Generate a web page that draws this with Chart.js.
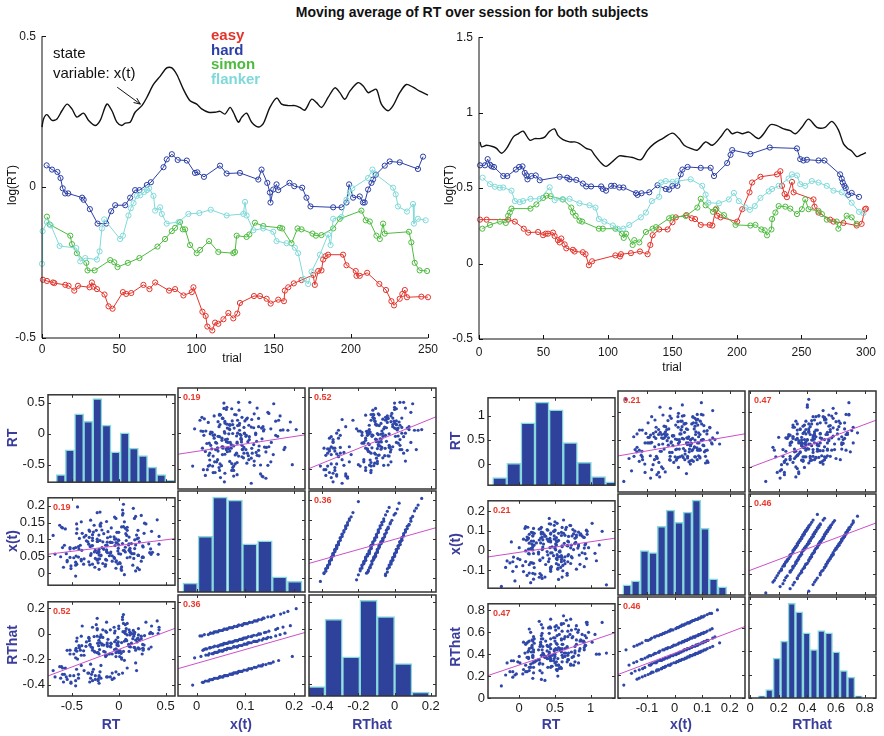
<!DOCTYPE html>
<html>
<head>
<meta charset="utf-8">
<title>Moving average of RT</title>
<script src="https://cdn.jsdelivr.net/npm/chart.js@4.4.1/dist/chart.umd.min.js"></script>
<style>
  html, body { margin: 0; padding: 0; background: #fff; }
  body { position: relative; width: 884px; height: 736px; overflow: hidden; font-family: "Liberation Sans", Arial, Helvetica, sans-serif; }
  canvas { position: absolute; }
  .lbl { position: absolute; white-space: nowrap; line-height: 1; transform: translate(-50%, -50%); z-index: 2; color: #111; }
  .rot { transform: translate(-50%, -50%) rotate(-90deg); }
  .var { font-weight: bold; font-size: 14px; color: #3a3d9c; }
  .txt { position: absolute; white-space: nowrap; line-height: 1; transform: translateY(-50%); z-index: 2; }
</style>
</head>
<body>
<script>
// ---------- top plots: moving averages (trial, log RT) ----------
const conditions = ['easy', 'hard', 'simon', 'flanker'];
const condColors = ['#e3342b', '#2b3fa6', '#4dbb3f', '#80d9d9'];

const stateL = [[0,0.199],[1,0.226],[3.2,0.240],[6.5,0.221],[9.7,0.226],[12.9,0.253],[16.2,0.275],[19.4,0.259],[22.6,0.232],[26.9,0.245],[30.2,0.221],[34.5,0.204],[37.7,0.221],[42,0.275],[45.3,0.253],[48.5,0.215],[51.7,0.204],[53.9,0.212],[57.1,0.215],[60.3,0.248],[64.7,0.270],[67.9,0.297],[72.2,0.340],[76.5,0.367],[80.8,0.395],[84.1,0.395],[87.3,0.373],[91.6,0.324],[95.9,0.286],[100.2,0.275],[103.4,0.259],[107.8,0.248],[112.1,0.248],[115.3,0.251],[118.5,0.242],[121.8,0.264],[123.9,0.248],[127.2,0.215],[129.3,0.231],[132.5,0.245],[135.8,0.215],[140.1,0.199],[143.3,0.210],[147.6,0.264],[152,0.295],[155.2,0.275],[159.5,0.270],[163.8,0.270],[167,0.264],[170.3,0.255],[174.6,0.291],[177.8,0.280],[181.1,0.264],[185.3,0.297],[189.7,0.329],[192.9,0.313],[196.1,0.291],[199.4,0.318],[204.7,0.346],[208,0.335],[211.2,0.313],[213.4,0.318],[216.6,0.324],[219.8,0.275],[224.1,0.253],[227.4,0.270],[231.7,0.313],[236,0.340],[240.3,0.331],[244.6,0.318],[250,0.305]];
const easyL = [[0.6,-0.307],[3.2,-0.311],[7.1,-0.316],[8,-0.318],[15.1,-0.324],[17.2,-0.327],[20.9,-0.343],[23.3,-0.327],[30.8,-0.332],[32.3,-0.316],[33.4,-0.330],[35.6,-0.338],[40.5,-0.356],[43.1,-0.395],[45.7,-0.403],[52.4,-0.348],[54.5,-0.354],[57.8,-0.351],[65.7,-0.324],[69.6,-0.338],[73.3,-0.316],[82.3,-0.343],[86.2,-0.338],[91.6,-0.359],[97,-0.348],[98.1,-0.332],[103.9,-0.413],[106,-0.427],[107.1,-0.462],[110.3,-0.475],[112.1,-0.449],[114.2,-0.453],[117.5,-0.438],[120.7,-0.417],[123.9,-0.435],[126.5,-0.419],[128.2,-0.384],[137.3,-0.361],[141.2,-0.361],[145.5,-0.370],[148.1,-0.386],[153,-0.373],[156.7,-0.378],[157.3,-0.343],[159.5,-0.332],[163.1,-0.319],[168.1,-0.308],[175.6,-0.291],[176.7,-0.324],[178.9,-0.278],[181,-0.276],[182.1,-0.240],[183.6,-0.229],[185.3,-0.224],[195,-0.224],[197.2,-0.259],[203.2,-0.278],[203.7,-0.294],[205.8,-0.294],[210.6,-0.284],[218.5,-0.321],[222.8,-0.341],[226.3,-0.378],[228,-0.392],[231.7,-0.370],[233.4,-0.354],[235,-0.341],[236.4,-0.365],[245.7,-0.363],[250,-0.365]];
const hardL = [[3,0.072],[6.5,0.058],[10,0.050],[12,0.030],[13.4,-0.004],[15,-0.021],[17,-0.021],[26,-0.035],[27,-0.042],[31,-0.073],[36,-0.121],[41.6,-0.121],[44.8,-0.080],[47.4,-0.060],[53.9,-0.060],[57.1,-0.035],[60.3,-0.010],[63.1,-0.010],[67.9,0.007],[70.5,0.016],[78.7,0.066],[80.8,0.092],[84.1,0.109],[87.9,0.090],[93.8,0.088],[99.1,0.047],[100.6,0.049],[104.9,0.034],[115.3,0.071],[119.6,0.045],[128.2,0.047],[140.1,0.025],[142.2,0.058],[145.9,0.014],[147.6,-0.018],[148,-0.051],[149.8,-0.008],[151.9,0.009],[153,-0.010],[160.3,0.014],[163.4,0.003],[168.5,-0.002],[171.3,-0.035],[173.9,-0.064],[188.6,-0.067],[194,-0.067],[197.2,-0.051],[198.9,0.009],[201.5,-0.035],[205.8,-0.031],[207.9,-0.051],[209,-0.051],[211.2,-0.008],[213.4,0.014],[214.4,0.025],[216.2,0.041],[222,0.071],[225.2,0.085],[231.7,0.082],[243.5,0.060],[246.8,0.101]];
const simonL = [[3.2,-0.098],[5,-0.124],[18.3,-0.161],[19.4,-0.189],[22.6,-0.219],[28.7,-0.251],[29.5,-0.276],[34.1,-0.276],[44.2,-0.242],[46.8,-0.249],[48.9,-0.265],[55.6,-0.251],[63.1,-0.235],[74.8,-0.197],[79.7,-0.172],[84.1,-0.146],[86.2,-0.135],[89.4,-0.116],[91.2,-0.140],[92.7,-0.140],[95.9,-0.192],[100.2,-0.219],[102.4,-0.208],[108.2,-0.179],[114.2,-0.215],[123.9,-0.219],[125,-0.215],[126.1,-0.161],[132.5,-0.165],[134.3,-0.157],[137.9,-0.118],[143.3,-0.129],[154.1,-0.135],[155.6,-0.137],[161.6,-0.186],[165.5,-0.137],[168.1,-0.140],[175.2,-0.154],[177.4,-0.161],[181,-0.159],[188.6,-0.137],[192.9,-0.105],[206.9,-0.078],[209.7,-0.110],[212.3,-0.114],[216.6,-0.161],[218.8,-0.172],[220.9,-0.121],[222,-0.154],[237.7,-0.148],[239.2,-0.183],[241.4,-0.251],[244.6,-0.276],[249.4,-0.278]];
const flankerL = [[0,-0.254],[0.4,-0.146],[3.2,-0.116],[5.8,-0.127],[11.4,-0.195],[22.2,-0.202],[24.8,-0.246],[28,-0.235],[35.6,-0.240],[37.3,-0.213],[38.8,-0.137],[40.3,-0.107],[50.6,-0.172],[52.4,-0.161],[56,-0.094],[57.5,-0.070],[59.3,-0.053],[61.4,-0.029],[63.6,-0.027],[66.2,-0.016],[67.9,-0.010],[69.4,-0.004],[72.2,-0.029],[73.3,-0.078],[76.5,-0.067],[77.6,-0.089],[80.8,-0.121],[88.4,-0.116],[94.8,-0.089],[101.9,-0.086],[109.3,-0.075],[119.6,-0.094],[130.4,-0.089],[131.5,-0.049],[132.5,-0.094],[136.9,-0.143],[143.3,-0.137],[149.8,-0.148],[151.9,-0.179],[158.4,-0.186],[163.8,-0.201],[165.9,-0.219],[169.6,-0.305],[172.4,-0.321],[174.6,-0.280],[180,-0.224],[185.3,-0.157],[186.9,-0.192],[188.6,-0.105],[194,-0.099],[197.2,-0.042],[199.4,-0.018],[201,-0.004],[211.2,0.030],[214,0.058],[215.5,0.045],[227.4,-0.002],[229.1,-0.024],[230.6,-0.064],[236.4,-0.081],[240.3,-0.056],[240.9,-0.121],[243.5,-0.105],[248.5,-0.110]];

const stateR = [[0.8,0.806],[2,0.774],[5.9,0.784],[11.1,0.774],[13.6,0.763],[17.5,0.731],[21.4,0.763],[26.5,0.838],[30.4,0.860],[34.2,0.877],[39.4,0.817],[43.2,0.828],[47.1,0.828],[50.9,0.838],[54.8,0.877],[58.6,0.892],[61.2,0.849],[65.1,0.821],[70.2,0.806],[74.1,0.806],[77.9,0.795],[83.1,0.763],[86.9,0.752],[89.5,0.720],[94.7,0.666],[98.5,0.644],[103.7,0.677],[108.8,0.713],[114,0.709],[119.1,0.703],[125.5,0.688],[130.7,0.752],[135.8,0.795],[142.3,0.828],[150,0.864],[155.1,0.828],[159,0.784],[164.1,0.763],[169.3,0.752],[175.7,0.806],[180.9,0.784],[187.3,0.838],[192.4,0.892],[196.3,0.860],[200.2,0.871],[204.1,0.860],[209.2,0.871],[214.3,0.838],[216.9,0.828],[220.7,0.860],[225.9,0.920],[231,0.914],[236.2,0.892],[241.3,0.881],[245.2,0.860],[250.3,0.903],[255.5,0.957],[261.9,0.903],[268.3,0.903],[273.5,0.942],[278.6,0.886],[282.5,0.795],[285.8,0.763],[288.9,0.746],[292.8,0.709],[296.1,0.720],[300,0.735]];
const easyR = [[0.8,0.291],[5.9,0.291],[22.6,0.291],[27.8,0.278],[34.7,0.231],[38.1,0.205],[45.8,0.209],[49.7,0.188],[51.7,0.198],[53.5,0.198],[57.4,0.205],[58.6,0.183],[61.2,0.155],[62.5,0.140],[63.8,0.166],[66.4,0.127],[67.7,0.101],[72.8,0.091],[74.1,0.080],[80.5,0.075],[82.6,0.062],[85.2,-0.011],[87.7,0.015],[105.7,0.054],[109.3,0.047],[110.1,0.062],[117.8,0.069],[124.8,0.080],[130.7,0.062],[132.8,0.123],[134.6,0.188],[139.7,0.226],[146.2,0.226],[150,0.274],[152.6,0.306],[160.8,0.321],[164.9,0.300],[167.5,0.295],[171.9,0.256],[178.8,0.256],[180.9,0.252],[183.4,0.356],[184.7,0.317],[187.3,0.306],[200.2,0.278],[204.1,0.360],[209.7,0.472],[211.7,0.537],[218.2,0.575],[231,0.591],[233.6,0.612],[234.9,0.515],[236.9,0.461],[238.7,0.440],[242.6,0.541],[243.9,0.472],[259.3,0.425],[260.1,0.377],[263.2,0.338],[272.2,0.291],[274.8,0.278],[282.5,0.269],[292.8,0.252],[296.6,0.263],[299.2,0.360],[300,0.364]];
const hardR = [[0.8,0.651],[4.6,0.651],[6.7,0.692],[8.5,0.655],[9.8,0.644],[11.6,0.640],[18.8,0.580],[21.9,0.580],[28.6,0.623],[31.1,0.640],[33.7,0.644],[35.5,0.601],[36.8,0.584],[37.6,0.558],[40.6,0.580],[44,0.584],[47.1,0.552],[62.5,0.575],[68.4,0.569],[70.2,0.558],[75.4,0.554],[80.5,0.530],[83.1,0.511],[86.9,0.511],[94.7,0.511],[96,0.494],[98.5,0.483],[102.4,0.515],[104.9,0.515],[108.8,0.504],[111.9,0.504],[121.7,0.466],[122.9,0.455],[126,0.466],[132,0.472],[138.4,0.519],[144.8,0.494],[147.4,0.490],[150,0.515],[153.8,0.515],[156.4,0.591],[157.7,0.623],[161.7,0.640],[171.9,0.634],[179.6,0.634],[182.2,0.580],[192.4,0.666],[195,0.720],[196.3,0.752],[210.4,0.726],[225.4,0.769],[246.5,0.763],[249,0.692],[251.5,0.683],[254.2,0.688],[263.2,0.683],[267.8,0.683],[279.9,0.591],[281.2,0.562],[282,0.537],[283.3,0.515],[284.3,0.500],[286.3,0.455],[288.9,0.468],[294.6,0.442]];
const simonR = [[2.6,0.231],[8.5,0.256],[16.2,0.278],[20.8,0.269],[22.6,0.317],[23.9,0.338],[25.2,0.364],[39.9,0.364],[44.5,0.392],[49.7,0.435],[52.2,0.450],[55.6,0.446],[65.1,0.425],[71.5,0.371],[72.8,0.338],[74.9,0.317],[77.9,0.284],[80,0.278],[92.9,0.231],[96,0.231],[105.7,0.231],[110.8,0.198],[112.2,0.170],[114,0.198],[119.1,0.123],[120.4,0.155],[124.3,0.140],[129.4,0.209],[134.6,0.231],[137.2,0.241],[147.4,0.300],[150,0.306],[160.3,0.315],[169.3,0.371],[171.9,0.429],[175.7,0.386],[181.4,0.343],[184,0.364],[189.9,0.321],[198.9,0.256],[210.4,0.252],[214.3,0.256],[218.9,0.226],[221.5,0.220],[223.3,0.187],[226.7,0.226],[227.2,0.295],[229.8,0.338],[232.3,0.381],[237.5,0.377],[241.3,0.364],[246.5,0.328],[250.3,0.360],[252.9,0.425],[255.5,0.360],[263.2,0.349],[265.8,0.328],[269.6,0.291],[277.3,0.278],[278.6,0.231],[285,0.317],[288.9,0.306],[292.8,0.263]];
const flankerR = [[2.8,0.569],[8.5,0.526],[12.3,0.509],[16.2,0.502],[18.8,0.504],[25.2,0.483],[27.8,0.414],[31.6,0.407],[34.2,0.414],[39.9,0.429],[47.1,0.429],[54.8,0.505],[58.7,0.420],[64.6,0.425],[70.2,0.429],[77.9,0.399],[85.7,0.386],[90.3,0.371],[92.9,0.295],[97.2,0.278],[103.7,0.252],[107.5,0.231],[111.9,0.231],[116.5,0.256],[125.5,0.306],[129.4,0.338],[134,0.414],[139.7,0.442],[141,0.537],[144.8,0.547],[150,0.541],[153.8,0.547],[164.1,0.558],[173.1,0.515],[175.7,0.457],[177.8,0.403],[186,0.399],[193.7,0.425],[197.6,0.468],[201.4,0.414],[206.6,0.371],[210,0.356],[213.8,0.381],[218.2,0.435],[224.6,0.478],[227.2,0.494],[232.3,0.515],[240,0.563],[242.6,0.591],[246.5,0.584],[249,0.526],[252.9,0.515],[258,0.547],[263.2,0.537],[269.6,0.515],[274.8,0.483],[281.2,0.472],[288.9,0.403],[294.6,0.343],[298,0.334]];

const arrowL = [[48.7, 0.331], [63.7, 0.275]];

// ---------- scatter matrices ----------
const varNames = ['RT', 'x(t)', 'RThat'];

// subject 1 (groups: easy, hard, simon, flanker, then a second batch in the same order)
const rtL = [-0.30,-0.59,0.00,-0.37,-0.22,-0.61,-0.12,-0.33,-0.28,-0.48,0.18,-0.62,-0.27,-0.21,-0.43,-0.68,-0.03,-0.19,-0.55,-0.21,-0.46,0.04,-0.57,-0.19,-0.46,-0.29,-0.44,-0.13,0.19,-0.51,-0.25,-0.63,-0.25,-0.32,-0.09,-0.45,-0.05,-0.30,-0.60,-0.22,
  -0.09,0.24,-0.24,0.07,0.15,0.00,0.34,-0.13,0.09,-0.14,-0.01,0.43,0.04,0.14,-0.23,0.18,0.05,0.12,-0.40,0.35,0.07,-0.19,0.21,0.04,0.42,-0.32,0.11,0.07,-0.13,0.20,-0.28,0.12,-0.04,0.29,-0.23,0.36,0.08,0.05,0.17,-0.39,
  0.02,-0.35,-0.14,0.18,-0.20,-0.52,-0.03,0.03,-0.16,-0.01,-0.37,-0.03,0.26,-0.42,-0.10,-0.18,0.06,-0.16,-0.20,0.00,0.32,-0.40,-0.09,0.01,-0.52,0.03,-0.21,0.17,-0.26,-0.02,-0.46,0.22,-0.23,0.06,-0.14,-0.28,0.11,-0.48,-0.08,0.11,
  -0.205,0.135,-0.425,0.075,-0.145,-0.295,0.275,-0.125,0.255,-0.315,0.015,-0.215,-0.005,-0.445,0.125,-0.025,-0.225,0.045,0.205,-0.305,0.025,-0.115,-0.395,0.195,-0.045,-0.195,0.345,-0.085,-0.375,0.085,0.105,-0.455,-0.045,-0.005,0.205,-0.255,-0.345,-0.085,0.155,0.255,
  -0.52,-0.31,-0.60,-0.07,-0.43,-0.70,-0.21,-0.40,-0.07,-0.58,-0.28,-0.51,0.09,-0.56,-0.20,
  0.16,-0.23,0.06,0.41,-0.17,0.43,0.00,0.21,-0.23,0.12,0.22,-0.17,0.09,0.33,-0.05,
  -0.41,-0.03,0.27,-0.22,-0.45,0.03,-0.28,-0.07,0.24,-0.46,-0.13,-0.31,0.05,-0.12,0.25,
  0.163,-0.212,-0.448,-0.016,-0.263,0.262,-0.179,0.167,-0.551,-0.044,0.114,-0.317,-0.030,-0.123,0.208];
const xtL = [0.053,0.018,0.084,0.107,0.042,0.136,0.061,0.093,0.027,0.074,0.168,0.049,0.122,0.012,0.079,0.057,0.102,0.148,0.038,0.071,-0.008,0.088,0.131,0.054,0.033,0.081,0.196,0.064,0.113,0.022,0.068,0.142,0.044,0.086,0.059,0.118,0.047,0.157,0.076,0.031,
  0.092,0.036,0.127,0.063,0.024,0.098,0.072,0.153,0.046,0.083,0.028,0.109,0.187,0.058,0.094,0.007,0.138,0.067,0.041,0.124,0.077,0.052,0.104,0.172,0.056,0.034,0.087,0.133,0.069,0.016,0.114,0.048,0.082,0.146,0.039,0.062,0.097,0.204,0.073,0.118,
  0.057,0.112,0.026,0.084,0.143,0.047,0.091,0.019,0.117,0.066,0.043,0.162,0.078,0.103,0.052,0.128,-0.004,0.071,0.181,0.058,0.087,0.037,0.108,0.032,0.076,0.137,0.054,0.099,0.063,0.121,0.024,0.093,0.061,0.152,0.041,0.082,0.107,0.046,0.134,0.068,
  0.043,0.088,0.072,0.117,0.021,0.058,0.148,0.083,0.049,0.106,0.029,0.066,0.098,0.131,0.062,0.037,0.094,0.177,0.054,0.079,0.013,0.123,0.068,0.102,0.044,0.139,0.056,0.091,0.027,0.112,0.084,0.051,0.166,0.074,0.127,0.018,0.096,0.063,0.192,0.081,
  0.072,0.025,0.134,0.091,0.048,0.112,0.063,0.152,0.036,0.083,0.104,0.014,0.127,0.058,0.097,
  0.044,0.101,0.067,0.158,0.029,0.086,0.121,0.053,0.179,0.074,0.011,0.093,0.136,0.061,0.108,
  0.083,0.034,0.118,0.061,0.146,0.009,0.097,0.052,0.171,0.076,0.039,0.124,0.068,0.105,0.047,
  0.058,0.113,0.027,0.089,0.142,0.047,0.076,0.162,0.034,0.101,0.069,0.128,0.015,0.092,0.053];
const rthatL = [-0.35,-0.38,-0.32,-0.29,-0.36,-0.26,-0.34,-0.31,-0.37,-0.33,-0.23,-0.35,-0.28,-0.39,-0.32,-0.34,-0.30,-0.25,-0.36,-0.33,-0.41,-0.31,-0.27,-0.35,-0.37,-0.32,-0.20,-0.34,-0.29,-0.38,-0.33,-0.26,-0.36,-0.31,-0.34,-0.28,-0.35,-0.24,-0.32,-0.37,
  0.03,-0.02,0.07,0.00,-0.04,0.04,0.01,0.09,-0.01,0.02,-0.03,0.05,0.13,0.00,0.03,-0.05,0.08,0.01,-0.02,0.06,0.02,-0.01,0.04,0.11,0.00,-0.03,0.03,0.07,0.01,-0.04,0.05,-0.01,0.02,0.09,-0.02,0.00,0.04,0.15,0.01,0.06,
  -0.15,-0.10,-0.18,-0.13,-0.07,-0.16,-0.12,-0.19,-0.09,-0.14,-0.17,-0.05,-0.13,-0.11,-0.16,-0.08,-0.21,-0.14,-0.03,-0.15,-0.12,-0.17,-0.10,-0.18,-0.13,-0.07,-0.16,-0.11,-0.14,-0.09,-0.19,-0.12,-0.15,-0.06,-0.17,-0.13,-0.10,-0.16,-0.08,-0.14,
  -0.125,-0.075,-0.095,-0.045,-0.145,-0.105,-0.015,-0.085,-0.115,-0.055,-0.135,-0.095,-0.065,-0.035,-0.105,-0.125,-0.075,0.015,-0.115,-0.085,-0.155,-0.045,-0.095,-0.065,-0.125,-0.025,-0.105,-0.075,-0.135,-0.055,-0.085,-0.115,0.005,-0.095,-0.035,-0.145,-0.065,-0.105,0.025,-0.085,
  -0.33,-0.38,-0.27,-0.31,-0.35,-0.29,-0.34,-0.25,-0.36,-0.32,-0.30,-0.39,-0.27,-0.34,-0.30,
  -0.02,0.04,0.01,0.10,-0.03,0.03,0.06,-0.01,0.12,0.01,-0.05,0.03,0.08,0.00,0.05,
  -0.13,-0.18,-0.09,-0.15,-0.06,-0.20,-0.11,-0.16,-0.04,-0.13,-0.17,-0.09,-0.14,-0.10,-0.16,
  -0.107,-0.052,-0.138,-0.076,-0.023,-0.118,-0.089,-0.003,-0.131,-0.064,-0.096,-0.037,-0.150,-0.073,-0.112];

// histogram bins (centres) and counts, subject 1
const rtBinsL = [-0.618,-0.521,-0.423,-0.326,-0.228,-0.131,-0.034,0.064,0.161,0.258,0.356,0.453,0.551];
const rtCountsL = [4,17,36,32,44,30,16,26,18,14,8,4,1];
const xtBinsL = [-0.013,0.018,0.048,0.079,0.109,0.140,0.170,0.201];
const xtCountsL = [6,37,63,61,32,34,10,7];
const rthatBinsL = [-0.433,-0.337,-0.240,-0.144,-0.048,0.048,0.144];
const rthatCountsL = [7,57,29,71,59,24,3];

const corrL = [0.19, 0.52, 0.36];
// least-squares lines [row][col] -> [intercept, slope]
const fitL = [[null, [-0.255, 1.04], [-0.008, 1.03]],
              [[0.082, 0.034], null, [0.0995, 0.13]],
              [[-0.124, 0.276], [-0.251, 1.02], null]];

// subject 2 (groups: hard, flanker, easy, simon, then a second batch in the same order)
const rtR = [0.68,0.33,0.91,0.62,0.82,0.29,0.69,0.92,0.28,0.63,0.51,0.95,0.20,0.79,0.56,1.16,0.18,0.68,0.50,0.80,0.72,0.32,0.74,0.59,1.22,0.44,0.73,0.14,0.94,0.53,0.80,0.21,0.97,0.62,0.59,0.14,0.67,0.59,0.88,0.43,0.64,0.60,
  0.30,0.64,0.50,0.84,0.19,0.44,0.33,0.86,0.42,0.31,0.54,0.10,0.51,0.68,0.44,0.28,0.92,0.30,0.57,0.20,0.61,0.53,0.16,0.90,0.18,0.59,0.48,1.08,0.42,0.44,0.06,0.67,0.37,0.80,0.13,0.52,0.67,0.31,0.57,0.33,0.93,0.37,
  0.44,0.44,0.20,0.58,0.39,0.60,-0.17,0.49,0.11,0.78,0.17,0.48,0.39,0.55,0.00,0.60,0.06,1.12,0.27,0.64,-0.06,0.42,0.78,0.16,0.46,-0.02,0.91,0.50,0.45,0.13,0.69,0.14,0.55,-0.08,0.78,0.39,0.30,0.52,0.34,0.85,0.01,0.50,
  0.09,0.78,0.31,0.40,0.13,0.54,0.33,0.12,0.53,0.36,0.36,-0.11,0.49,0.05,0.83,0.28,0.46,-0.09,0.76,0.21,0.29,0.65,-0.25,0.49,0.09,0.83,0.20,0.24,0.56,0.49,-0.19,0.50,0.11,0.19,0.68,0.14,0.50,-0.09,0.72,0.42,0.52,0.19,
  0.41,0.85,0.66,1.06,0.31,0.61,0.83,0.52,0.94,0.44,0.59,0.16,0.95,0.60,0.55,
  0.73,0.33,0.44,0.12,0.91,0.22,0.75,0.18,0.41,0.88,0.27,0.71,0.55,0.44,0.21,
  0.32,0.60,0.09,0.44,0.43,0.17,0.72,0.40,0.69,0.14,0.32,0.63,0.19,1.02,0.29,
  0.52,-0.04,0.74,0.20,0.08,0.53,0.40,0.31,0.19,0.76,-0.13,0.53,0.19,0.59,0.35];
const xtR = [-0.028,0.054,-0.083,0.087,0.012,-0.118,0.071,-0.017,0.108,-0.052,0.033,0.082,-0.147,0.041,-0.006,0.097,-0.064,0.023,0.058,-0.096,0.127,0.004,-0.038,0.076,-0.176,0.049,0.027,-0.073,0.103,-0.022,0.068,-0.088,0.014,0.155,-0.047,0.037,-0.127,0.092,-0.012,0.061,-0.033,0.019,
  0.038,-0.068,0.104,-0.024,0.073,-0.107,0.017,0.084,-0.043,0.118,-0.092,0.052,0.003,-0.058,0.088,-0.137,0.028,0.063,-0.008,0.112,-0.077,0.044,-0.165,0.067,0.012,-0.027,0.097,-0.053,0.136,-0.098,0.057,0.024,-0.072,0.078,-0.016,0.048,-0.117,0.093,-0.003,-0.038,0.034,0.072,
  0.083,-0.013,0.047,-0.087,0.106,0.023,-0.054,0.074,-0.128,0.036,0.092,-0.027,0.058,-0.074,0.014,0.117,-0.108,0.028,-0.018,0.077,-0.156,0.053,0.098,-0.063,0.018,-0.042,0.066,0.146,-0.083,0.006,0.043,-0.116,0.087,-0.034,0.062,-0.006,0.112,-0.068,0.032,0.079,-0.047,0.009,
  -0.057,0.034,0.088,-0.023,0.063,-0.096,0.008,0.118,-0.037,0.072,-0.136,0.043,0.097,-0.078,0.022,0.053,-0.012,-0.107,0.084,0.027,-0.048,0.107,-0.184,0.058,-0.003,0.093,-0.066,0.038,-0.032,0.128,-0.087,0.017,0.068,-0.117,0.047,-0.018,0.102,-0.058,0.013,0.163,-0.042,0.076,
  0.046,-0.071,0.118,-0.015,0.083,-0.104,0.027,0.065,-0.042,0.134,-0.058,0.009,0.097,-0.136,0.051,
  -0.032,0.091,-0.086,0.057,0.012,-0.121,0.106,0.031,-0.057,0.074,-0.009,0.128,-0.148,0.043,0.087,
  0.066,-0.038,0.121,-0.092,0.014,0.047,-0.067,0.103,-0.021,0.082,-0.143,0.036,0.002,0.138,-0.052,
  0.028,-0.083,0.074,-0.016,0.112,-0.047,0.056,-0.128,0.091,0.004,-0.064,0.138,0.019,-0.033,0.081];
const rthatR = [0.56,0.64,0.51,0.68,0.60,0.47,0.66,0.57,0.70,0.54,0.62,0.67,0.44,0.63,0.58,0.69,0.53,0.61,0.65,0.49,0.72,0.59,0.55,0.67,0.41,0.64,0.62,0.52,0.69,0.57,0.66,0.50,0.60,0.75,0.54,0.63,0.46,0.68,0.58,0.65,0.56,0.61,
  0.49,0.38,0.55,0.43,0.52,0.34,0.47,0.53,0.41,0.57,0.36,0.50,0.45,0.39,0.54,0.31,0.48,0.51,0.44,0.56,0.37,0.49,0.28,0.52,0.46,0.42,0.55,0.40,0.59,0.35,0.51,0.47,0.38,0.53,0.43,0.50,0.33,0.54,0.45,0.41,0.48,0.52,
  0.45,0.36,0.42,0.28,0.48,0.39,0.32,0.44,0.24,0.41,0.46,0.34,0.43,0.30,0.38,0.49,0.26,0.40,0.35,0.45,0.21,0.42,0.47,0.31,0.39,0.33,0.44,0.52,0.29,0.37,0.41,0.25,0.46,0.34,0.43,0.36,0.48,0.30,0.40,0.45,0.32,0.38,
  0.24,0.33,0.39,0.28,0.36,0.20,0.31,0.42,0.26,0.37,0.16,0.34,0.40,0.22,0.32,0.35,0.29,0.19,0.38,0.33,0.25,0.41,0.11,0.36,0.30,0.39,0.23,0.34,0.27,0.43,0.21,0.32,0.37,0.18,0.35,0.28,0.40,0.24,0.31,0.47,0.26,0.38,
  0.64,0.52,0.71,0.58,0.67,0.49,0.62,0.66,0.55,0.72,0.53,0.60,0.69,0.45,0.64,
  0.42,0.54,0.36,0.51,0.46,0.33,0.56,0.48,0.39,0.52,0.44,0.58,0.30,0.49,0.54,
  0.44,0.33,0.49,0.28,0.38,0.42,0.30,0.47,0.35,0.45,0.23,0.41,0.37,0.51,0.32,
  0.33,0.22,0.37,0.28,0.41,0.25,0.36,0.17,0.39,0.30,0.24,0.44,0.32,0.27,0.38];

const rtBinsR = [-0.273,-0.076,0.122,0.319,0.517,0.715,0.912,1.110,1.307];
const rtCountsR = [7,20,57,76,69,39,21,8,3];
const xtBinsR = [-0.172,-0.141,-0.109,-0.078,-0.047,-0.015,0.016,0.047,0.079,0.110,0.141,0.173];
const xtCountsR = [5,7,22,21,34,42,36,41,47,33,8,4];
const rthatBinsR = [0.083,0.135,0.187,0.239,0.291,0.343,0.395,0.446,0.498,0.550,0.602,0.654,0.706,0.758];
const rthatCountsR = [1,4,19,27,45,41,31,23,32,31,22,13,10,1];

const corrR = [0.21, 0.47, 0.46];
const fitR = [[null, [0.383, 0.864], [0.0, 0.963]],
              [[-0.010, 0.054], null, [-0.084, 0.238]],
              [[0.301, 0.22], [0.382, 0.889], null]];

// ---------- drawing ----------
const FONT = '"Liberation Sans", Arial, Helvetica, sans-serif';
Chart.defaults.font.family = FONT;
Chart.defaults.color = '#1a1a1a';
Chart.defaults.animation = false;
Chart.defaults.plugins.legend.display = false;
Chart.defaults.plugins.tooltip.enabled = false;

const DOT = '#2f47a8', FIT = '#cc4fc9', HIST = '#2e429c', EDGE = '#88d9dc';

// box, inward ticks, corr label and arrow
const framePlugin = {
  id: 'frame',
  afterDraw(chart, args, o) {
    const ctx = chart.ctx, a = chart.chartArea;
    const L = o.tick || 3.5;
    ctx.save();
    ctx.strokeStyle = o.color || '#333';
    ctx.lineWidth = 1;
    ctx.beginPath();
    (o.scales || []).forEach(id => {
      const s = chart.scales[id];
      s.ticks.forEach(t => {
        const p = Math.round(s.getPixelForValue(t.value)) + 0.5;
        if (s.isHorizontal()) {
          ctx.moveTo(p, a.bottom); ctx.lineTo(p, a.bottom - L);
          if (o.box) { ctx.moveTo(p, a.top); ctx.lineTo(p, a.top + L); }
        } else {
          ctx.moveTo(a.left, p); ctx.lineTo(a.left + L, p);
          if (o.box) { ctx.moveTo(a.right, p); ctx.lineTo(a.right - L, p); }
        }
      });
    });
    ctx.stroke();
    ctx.lineWidth = o.lineWidth || 1.2;
    if (o.box) {
      ctx.strokeRect(a.left, a.top, a.width, a.height);
    } else {
      ctx.beginPath();
      ctx.moveTo(a.left, a.top); ctx.lineTo(a.left, a.bottom); ctx.lineTo(a.right, a.bottom);
      ctx.stroke();
    }
    if (o.label) {
      ctx.fillStyle = '#e8392c';
      ctx.font = 'bold 9px ' + FONT;
      ctx.textBaseline = 'middle';
      ctx.fillText(o.label, a.left + 5, a.top + 10);
    }
    if (o.arrow) {
      const xs = chart.scales.x, ys = chart.scales.y;
      const x1 = xs.getPixelForValue(o.arrow[0][0]), y1 = ys.getPixelForValue(o.arrow[0][1]);
      const x2 = xs.getPixelForValue(o.arrow[1][0]), y2 = ys.getPixelForValue(o.arrow[1][1]);
      const ang = Math.atan2(y2 - y1, x2 - x1), h = 7;
      ctx.strokeStyle = '#111'; ctx.lineWidth = 1;
      ctx.beginPath();
      ctx.moveTo(x1, y1); ctx.lineTo(x2, y2);
      ctx.moveTo(x2 - h * Math.cos(ang - 0.4), y2 - h * Math.sin(ang - 0.4)); ctx.lineTo(x2, y2);
      ctx.lineTo(x2 - h * Math.cos(ang + 0.4), y2 - h * Math.sin(ang + 0.4));
      ctx.stroke();
    }
    ctx.restore();
  }
};

// the scale box fills the margin so its labels are not clipped
function axis(min, max, ticks, show, size, horiz, pad, boxSize) {
  return {
    type: 'linear', min: min, max: max, offset: false,
    grid: { display: false, drawTicks: false },
    border: { display: false },
    ticks: { display: show, font: { size: size }, color: '#1a1a1a', padding: pad, autoSkip: false,
             maxRotation: 0, minRotation: 0, callback: v => String(v) },
    afterBuildTicks: s => { s.ticks = ticks.map(v => ({ value: v })); },
    afterFit: s => { if (horiz) s.height = boxSize; else s.width = boxSize; }
  };
}

function makeCanvas(area, pad) {
  const c = document.createElement('canvas');
  const w = area.w + pad.l + pad.r, h = area.h + pad.t + pad.b;
  c.width = w; c.height = h;
  c.style.left = (area.x - pad.l) + 'px';
  c.style.top = (area.y - pad.t) + 'px';
  c.style.width = w + 'px'; c.style.height = h + 'px';
  document.body.appendChild(c);
  return c;
}

function label(text, x, y, cls, style) {
  const d = document.createElement('div');
  d.className = 'lbl ' + (cls || '');
  d.style.left = x + 'px'; d.style.top = y + 'px';
  if (style) d.style.cssText += style;
  d.textContent = text;
  document.body.appendChild(d);
}

function seriesSet(pairs, color) {
  return { data: pairs.map(p => ({ x: p[0], y: p[1] })), borderColor: color, borderWidth: 1,
           pointRadius: 2.6, pointBorderColor: color, pointBackgroundColor: 'rgba(0,0,0,0)',
           pointBorderWidth: 1, clip: false, tension: 0 };
}

function topChart(area, state, series, xMax, xTicks, yMin, yMax, yTicks, xPad, arrow) {
  const pad = { l: 42, r: 14, t: 8, b: 24 };
  const ds = [];
  for (let i = series.length - 1; i >= 0; i--) ds.push(seriesSet(series[i], condColors[i]));
  ds.push({ data: state.map(p => ({ x: p[0], y: p[1] })), borderColor: '#111', borderWidth: 1.4,
            pointRadius: 0, clip: false, tension: 0.3 });
  new Chart(makeCanvas(area, pad), {
    type: 'line',
    data: { datasets: ds },
    options: {
      responsive: false, animation: false,
      layout: { padding: { left: 0, right: pad.r, top: pad.t, bottom: 0 } },
      scales: { x: axis(0, xMax, xTicks, true, 12, true, xPad, pad.b),
                y: axis(yMin, yMax, yTicks, true, 12, false, 6, pad.l) },
      plugins: { frame: { box: false, scales: ['x', 'y'], tick: 4, color: '#111', lineWidth: 1, arrow: arrow } }
    },
    plugins: [framePlugin]
  });
}

topChart({ x: 42, y: 31, w: 386, h: 307 }, stateL, [easyL, hardL, simonL, flankerL],
         250, [0, 50, 100, 150, 200, 250], -0.5, 0.5, [-0.5, 0, 0.5], 4, arrowL);
topChart({ x: 479, y: 32, w: 389, h: 307 }, stateR, [easyR, hardR, simonR, flankerR],
         300, [0, 50, 100, 150, 200, 250, 300], -0.5, 1.5, [-0.5, 0, 0.5, 1, 1.5], 6, null);

function matrix(m) {
  for (let r = 0; r < 3; r++) {
    for (let c = 0; c < 3; c++) {
      const area = { x: m.cols[c], y: m.rows[r], w: 127, h: 101 };
      const pad = { l: c === 0 ? 44 : 10, r: 10, t: 4, b: r === 2 ? 24 : 4 };
      const scales = {
        x: axis(m.xr[c][0], m.xr[c][1], m.xt[c], r === 2, 13, true, 3, pad.b),
        y: axis(m.yr[r][0], m.yr[r][1], m.yt[r], c === 0, 13, false, 3, pad.l)
      };
      let type, datasets, lbl = null;
      if (r === c) {
        type = 'bar';
        scales.c = { type: 'linear', display: false, min: 0, max: m.cmax[r] };
        datasets = [{ xAxisID: 'x', yAxisID: 'c',
          data: m.bins[r].map((b, i) => ({ x: b, y: m.counts[r][i] })),
          backgroundColor: HIST, borderColor: EDGE, borderWidth: 1.5,
          barPercentage: 1, categoryPercentage: 1 }];
      } else {
        type = 'scatter';
        const f = m.fit[r][c];
        const x0 = m.xr[c][0], x1 = m.xr[c][1];
        datasets = [
          { data: [{ x: x0, y: f[0] + f[1] * x0 }, { x: x1, y: f[0] + f[1] * x1 }], showLine: true,
            borderColor: FIT, borderWidth: 1, pointRadius: 0, order: 0 },
          { data: m.data[c].map((v, i) => ({ x: v, y: m.data[r][i] })), pointRadius: 1.6,
            pointBackgroundColor: DOT, pointBorderWidth: 0, order: 1 }
        ];
        lbl = String(m.corr[r + c - 1]);
      }
      new Chart(makeCanvas(area, pad), {
        type: type,
        data: { datasets: datasets },
        options: {
          responsive: false, animation: false,
          layout: { padding: { left: 0, right: pad.r, top: pad.t, bottom: 0 } },
          scales: scales,
          plugins: { frame: { box: true, scales: ['x', 'y'], tick: 3, color: '#333', lineWidth: 1.5, label: lbl } }
        },
        plugins: [framePlugin]
      });
    }
  }
  for (let i = 0; i < 3; i++) {
    label(varNames[i], m.rowLabelX, m.rows[i] + 50, 'var rot');
    label(varNames[i], m.cols[i] + 63, 724, 'var');
  }
}

matrix({
  cols: [48, 178, 309], rows: [388, 491, 595], rowLabelX: 12,
  data: [rtL, xtL, rthatL],
  xr: [[-0.755, 0.6], [-0.038, 0.222], [-0.473, 0.229]],
  yr: [[-0.78, 0.63], [-0.035, 0.223], [-0.49, 0.25]],
  xt: [[-0.5, 0, 0.5], [0, 0.1, 0.2], [-0.4, -0.2, 0, 0.2]],
  yt: [[-0.5, 0, 0.5], [0, 0.05, 0.1, 0.15, 0.2], [-0.4, -0.2, 0, 0.2]],
  bins: [rtBinsL, xtBinsL, rthatBinsL], counts: [rtCountsL, xtCountsL, rthatCountsL],
  cmax: [46, 67, 75], corr: corrL, fit: fitL
});
matrix({
  cols: [488, 618, 749], rows: [391, 494, 597], rowLabelX: 455,
  data: [rtR, xtR, rthatR],
  xr: [[-0.437, 1.34], [-0.205, 0.255], [-0.007, 0.879]],
  yr: [[-0.44, 1.37], [-0.193, 0.253], [0, 0.86]],
  xt: [[0, 0.5, 1], [-0.1, 0, 0.1, 0.2], [0, 0.2, 0.4, 0.6, 0.8]],
  yt: [[0, 0.5, 1], [-0.1, 0, 0.1, 0.2], [0, 0.2, 0.4, 0.6, 0.8]],
  bins: [rtBinsR, xtBinsR, rthatBinsR], counts: [rtCountsR, xtCountsR, rthatCountsR],
  cmax: [80, 50, 48], corr: corrR, fit: fitR
});

// ---------- text ----------
label('Moving average of RT over session for both subjects', 472, 12, '', 'font-weight:bold;font-size:14px;');
label('log(RT)', 12, 185, 'rot', 'font-size:12px;');
label('log(RT)', 449, 185, 'rot', 'font-size:12px;');
label('trial', 232, 358, '', 'font-size:12px;');
label('trial', 672, 367, '', 'font-size:12px;');
conditions.forEach((name, i) => {
  const d = document.createElement('div');
  d.className = 'txt';
  d.style.cssText += 'left:211px;top:' + (34 + i * 14.7) + 'px;font-weight:bold;font-size:15px;color:' + condColors[i];
  d.textContent = name;
  document.body.appendChild(d);
});
['state', 'variable: x(t)'].forEach((t, i) => {
  const d = document.createElement('div');
  d.className = 'txt';
  d.style.cssText += 'left:53px;top:' + (52 + i * 20) + 'px;font-size:15px;color:#111';
  d.textContent = t;
  document.body.appendChild(d);
});
</script>
</body>
</html>
